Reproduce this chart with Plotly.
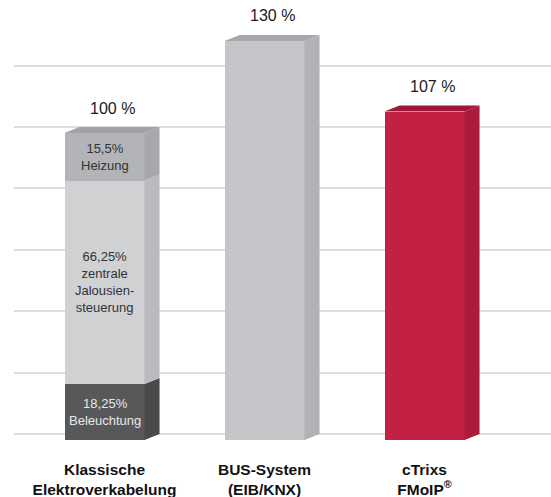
import plotly.graph_objects as go

# ---- data ----
categories = ["Klassische<br>Elektroverkabelung", "BUS-System<br>(EIB/KNX)", "cTrixs<br>FMoIP<sup>®</sup>"]
totals = [100, 130, 107]
total_labels = ["100 %", "130 %", "107 %"]
# stacked segments of the first bar (bottom to top)
seg_values = [18.25, 66.25, 15.5]
seg_labels = ["18,25%<br>Beleuchtung", "66,25%<br>zentrale<br>Jalousien-<br>steuerung", "15,5%<br>Heizung"]

# ---- styling ----
FONT = "Liberation Sans, Arial, Helvetica, sans-serif"
seg_front = ["#58585a", "#d0d1d3", "#b2b4b7"]
seg_side = ["#4a4a4c", "#b9bbbe", "#a6a8ab"]
seg_text = ["#e8e8e8", "#333333", "#333333"]
bar_front = [None, "#c4c5c8", "#c32144"]
bar_side = [None, "#b0b2b5", "#ad1b3b"]
bar_top = ["#a0a2a5", "#a6a8ab", "#9e1736"]

W = 0.5      # bar width (x units)
DX = 0.094   # depth offset in x
DY = 1.95    # depth offset in y (percent units)

fig = go.Figure()


def poly(xs, ys, color):
    fig.add_trace(go.Scatter(x=xs + [xs[0]], y=ys + [ys[0]], mode="lines", fill="toself",
                             fillcolor=color, line=dict(width=0, color=color),
                             hoverinfo="skip", showlegend=False))


for i, tot in enumerate(totals):
    xl, xr = i - W / 2, i + W / 2
    if i == 0:
        cum = 0
        for s, v in enumerate(seg_values):
            fig.add_trace(go.Bar(x=[i], y=[v], base=[cum - DY], width=W,
                                 marker=dict(color=seg_front[s], line=dict(width=0)),
                                 hoverinfo="skip", showlegend=False))
            poly([xr, xr + DX, xr + DX, xr], [cum - DY, cum, cum + v, cum + v - DY], seg_side[s])
            fig.add_annotation(x=i, y=cum + v / 2 - DY, text=seg_labels[s], showarrow=False,
                               font=dict(family=FONT, size=13, color=seg_text[s]))
            cum += v
    else:
        fig.add_trace(go.Bar(x=[i], y=[tot], base=[-DY], width=W,
                             marker=dict(color=bar_front[i], line=dict(width=0)),
                             hoverinfo="skip", showlegend=False))
        poly([xr, xr + DX, xr + DX, xr], [-DY, 0, tot, tot - DY], bar_side[i])
    # top face
    poly([xl, xr, xr + DX, xl + DX], [tot - DY, tot - DY, tot, tot], bar_top[i])
    # value label
    fig.add_annotation(x=i + DX / 2, y=tot, text=total_labels[i], showarrow=False,
                       yanchor="middle", yshift=19,
                       font=dict(family=FONT, size=16, color="#1a1a1a"))

fig.update_layout(
    width=551, height=497,
    margin=dict(l=14, r=0, t=0, b=47),
    paper_bgcolor="white", plot_bgcolor="white",
    barmode="overlay", bargap=0,
    showlegend=False,
    hovermode=False,
    font=dict(family=FONT),
)
fig.update_xaxes(range=[-0.5656, 2.7906], tickvals=[0, 1, 2], ticktext=categories,
                 showgrid=False, zeroline=False, showline=False, ticks="",
                 tickfont=dict(family=FONT, size=15.5, color="#111111", weight="bold"),
                 ticklabelstandoff=8, fixedrange=True)
fig.update_yaxes(range=[-5.21, 141.37], tickvals=[0, 20, 40, 60, 80, 100, 120],
                 showticklabels=False, showgrid=True, gridcolor="#dedede", gridwidth=2,
                 zeroline=False, showline=False, ticks="", fixedrange=True)

# remove the browser's default 8px body margin so the figure fills the window
fig.write_html("out.html", config={"displayModeBar": False},
               post_script="document.body.style.margin='0px';")
